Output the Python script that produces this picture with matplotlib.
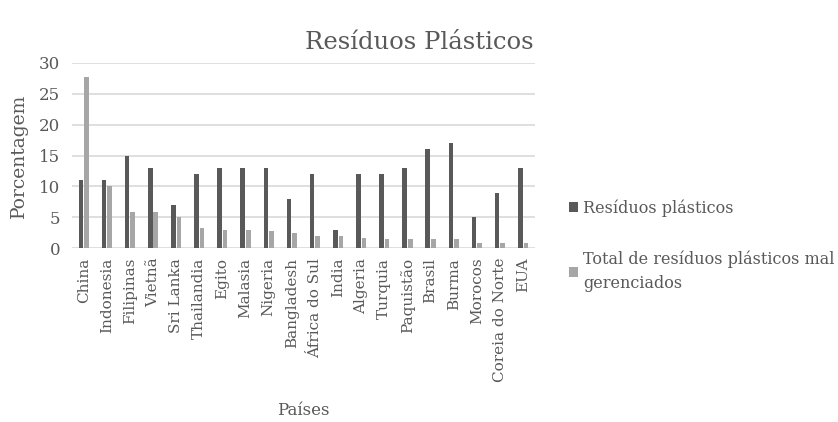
import numpy as np
import matplotlib.pyplot as plt

paises = ["China", "Indonesia", "Filipinas", "Vietnã", "Sri Lanka", "Thailandia",
          "Egito", "Malasia", "Nigeria", "Bangladesh", "África do Sul", "India",
          "Algeria", "Turquia", "Paquistão", "Brasil", "Burma", "Morocos",
          "Coreia do Norte", "EUA"]
residuos = [11, 11, 15, 13, 7, 12, 13, 13, 13, 8, 12, 3, 12, 12, 13, 16, 17, 5, 9, 13]
mal_gerenciados = [27.7, 10.0, 5.8, 5.8, 5.0, 3.2, 3.0, 2.9, 2.7, 2.4, 1.9, 1.9,
                   1.6, 1.4, 1.4, 1.4, 1.4, 0.9, 0.9, 0.9]

plt.rcParams['font.family'] = ['DejaVu Serif']
txt = '#595959'

fig = plt.figure(figsize=(8.38, 4.22), dpi=100)
ax = fig.add_axes([0.086, 0.412, 0.552, 0.439])

x = np.arange(len(paises))
w = 0.2
ax.bar(x - 0.12, residuos, w, color='#595959', label='Resíduos plásticos', zorder=3)
ax.bar(x + 0.12, mal_gerenciados, w, color='#a6a6a6',
       label='Total de resíduos plásticos mal\ngerenciados', zorder=3)

ax.set_xlim(-0.5, len(paises) - 0.5)
ax.set_ylim(0, 30)
ax.set_yticks(range(0, 31, 5))
ax.set_xticks(x)
ax.set_xticklabels(paises, rotation=90)
ax.tick_params(length=0, labelsize=11, colors=txt)
ax.tick_params(axis='y', labelsize=12, pad=8.5)
ax.tick_params(axis='x', pad=7)
ax.grid(axis='y', color='#d9d9d9', linewidth=1.2, zorder=0)
for s in ax.spines.values():
    s.set_visible(False)

ax.set_ylabel('Porcentagem', fontsize=13.5, color=txt)
ax.yaxis.set_label_coords(-0.095, 0.5)
ax.set_xlabel('Países', fontsize=12, color=txt)
ax.xaxis.set_label_coords(0.5, -0.83)
fig.text(0.5, 0.9, 'Resíduos Plásticos', fontsize=17.5, color=txt,
         ha='center', va='center')

ax.legend(loc='upper left', bbox_to_anchor=(1.043, 0.34), frameon=False,
          fontsize=11.5, labelcolor=txt, handlelength=0.6, handleheight=0.6,
          handletextpad=0.3, labelspacing=2.1)
for t in ax.get_legend().get_texts():
    t.set_linespacing(1.5)

fig.savefig('out.png', dpi=100)
